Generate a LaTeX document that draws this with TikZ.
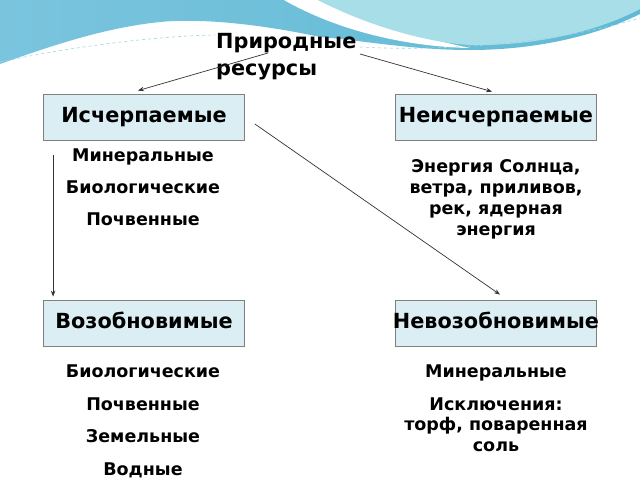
\documentclass[tikz,border=0pt]{standalone}
\usepackage{fontspec}
\setmainfont{DejaVu Sans}
\usepackage{xcolor}
\usetikzlibrary{positioning, arrows.meta}

\definecolor{boxfill}{RGB}{219,238,243}
\definecolor{boxline}{RGB}{128,128,128}
\definecolor{waveblue}{RGB}{122,196,222}
\definecolor{wavedeep}{RGB}{96,186,212}
\definecolor{wavelight}{RGB}{168,222,232}
\definecolor{wavedash}{RGB}{160,210,226}

\newcommand{\kindtext}[1]{\makebox[0pt]{#1}}

\tikzset{
    kind/.style={draw=boxline, fill=boxfill, line width=0.8pt, minimum width=201pt, minimum height=46pt,
        inner sep=0pt, text height=15pt, text depth=4pt, font=\fontsize{20.8}{24}\selectfont\bfseries},
    entry/.style={anchor=base, inner sep=0pt, font=\fontsize{17.5}{21}\selectfont\bfseries},
    link/.style={-{Stealth[length=6pt,width=4.5pt]}, draw=black!80, line width=0.7pt}
}

\begin{document}
\begin{tikzpicture}[x=1pt, y=-1pt]
    \useasboundingbox (0,0) rectangle (640,480);
    % background wave
    \fill[white] (0,0) rectangle (640,480);
    \shade[left color=waveblue, right color=wavedeep] (0,0) -- (640,0) -- (640,14)
        .. controls (600,34) and (540,50) .. (470,50)
        .. controls (410,50) and (360,40) .. (320,37)
        .. controls (260,24) and (200,18) .. (160,22)
        .. controls (100,28) and (40,50) .. (0,64) -- cycle;
    \fill[white] (284,0) .. controls (340,32) and (410,47) .. (470,48)
        .. controls (430,40) and (360,20) .. (318,0) -- cycle;
    \fill[wavelight] (318,0) .. controls (360,22) and (420,42) .. (470,45)
        .. controls (540,46) and (600,30) .. (640,9) -- (640,0) -- cycle;
    \draw[wavedash, dashed, line width=0.6pt] (0,62) .. controls (80,45) and (160,36) .. (215,35);
    \draw[wavedash, dashed, line width=0.6pt] (360,47) .. controls (450,52) and (560,42) .. (640,18);

    % title and categories
    \node[anchor=north west, inner sep=0pt, align=left, font=\fontsize{20.8}{27}\selectfont\bfseries]
        (res) at (216,33) {Природные\\ресурсы};
    \node[kind] (exh) at (144,117) {\kindtext{Исчерпаемые}};
    \node[kind] (inexh) at (496,117) {\kindtext{Неисчерпаемые}};
    \node[kind] (renew) at (144,323) {\kindtext{Возобновимые}};
    \node[kind] (nonrenew) at (496,323) {\kindtext{Невозобновимые}};

    % lists under the boxes
    \foreach \t/\y [count=\i] in {Минеральные/161, Биологические/193, Почвенные/225}
        \node[entry] (exh\i) at (143,\y) {\t};
    \foreach \t/\y [count=\i] in {{Энергия Солнца,}/172, {ветра, приливов,}/193, {рек, ядерная}/214, энергия/235}
        \node[entry] (inexh\i) at (496,\y) {\t};
    \foreach \t/\y [count=\i] in {Биологические/377, Почвенные/410, Земельные/442, Водные/475}
        \node[entry] (renew\i) at (143,\y) {\t};
    \foreach \t/\y [count=\i] in {Минеральные/377, Исключения:/410, {торф, поваренная}/430, соль/451}
        \node[entry] (nonrenew\i) at (496,\y) {\t};

    % arrows
    \coordinate (resl) at (268,53);
    \coordinate (resr) at (360,54);
    \draw[link] (resl) -- ([xshift=-6pt,yshift=3pt]exh.north);
    \draw[link] (resr) -- ([xshift=-4pt,yshift=2pt]inexh.north);
    \draw[link] ([xshift=10pt,yshift=-15pt]exh.south west) -- ([xshift=10pt,yshift=3pt]renew.north west);
    \draw[link] ([xshift=10pt,yshift=-7pt]exh.east) -- ([xshift=4pt,yshift=5pt]nonrenew.north);
\end{tikzpicture}
\end{document}
